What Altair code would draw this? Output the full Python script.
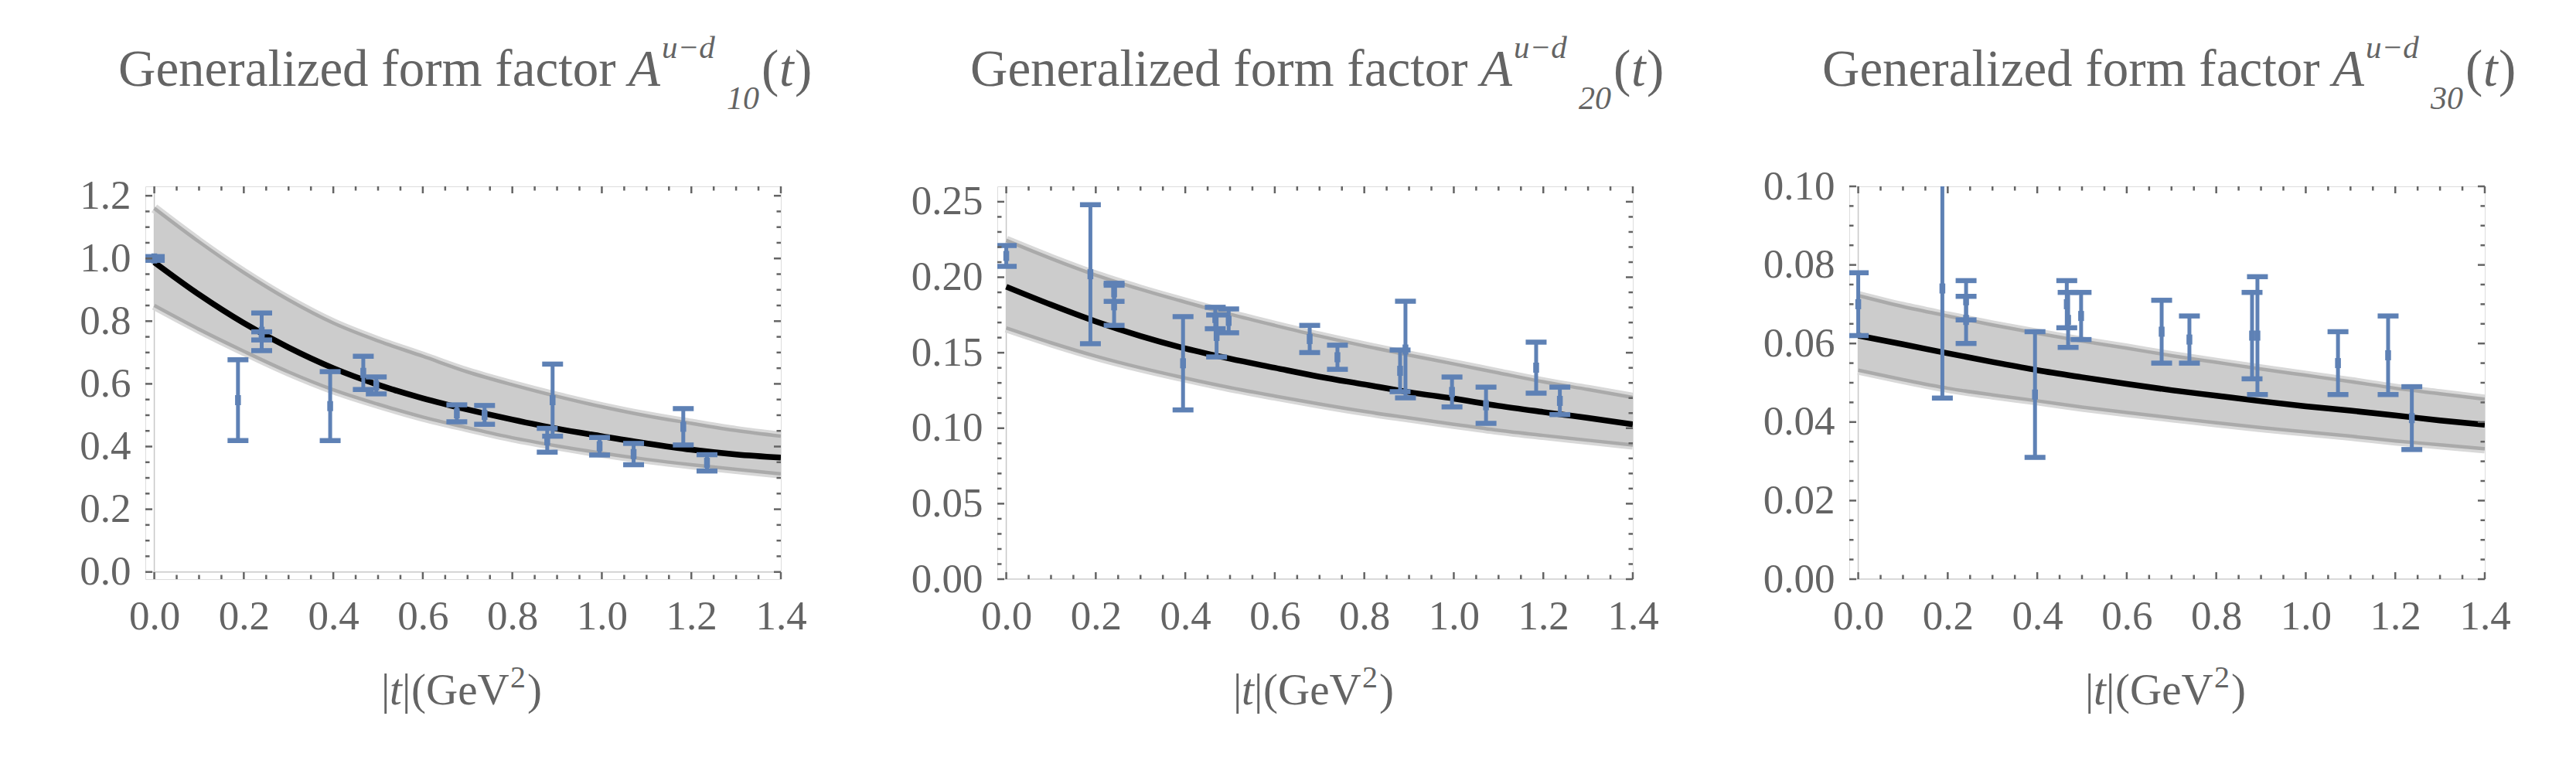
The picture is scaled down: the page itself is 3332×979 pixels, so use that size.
import altair as alt
import pandas as pd

FONT = "Liberation Serif"
GRAY = "#646464"
BLUE = "#5e81b5"

# x grid for the curves / bands (|t| in GeV^2)
T_GRID = [0.0, 0.1, 0.2, 0.3, 0.4, 0.5, 0.6, 0.7, 0.8, 0.9, 1.0, 1.1, 1.2, 1.3, 1.4]

# ---- panel 1 : A10 ----
P1_CURVE = [0.988, 0.885, 0.794, 0.716, 0.650, 0.597, 0.554, 0.518, 0.486, 0.457, 0.433, 0.410, 0.390, 0.375, 0.365]
P1_UP = [1.160, 1.053, 0.955, 0.868, 0.794, 0.737, 0.688, 0.638, 0.597, 0.560, 0.527, 0.498, 0.474, 0.451, 0.433]
P1_LO = [0.850, 0.774, 0.704, 0.638, 0.581, 0.535, 0.494, 0.460, 0.428, 0.402, 0.379, 0.359, 0.342, 0.327, 0.313]
P1_T = [0.0, 0.187, 0.240, 0.240, 0.393, 0.467, 0.496, 0.676, 0.738, 0.890, 0.878, 0.995, 1.071, 1.182, 1.235]
P1_C = [1.000, 0.548, 0.766, 0.753, 0.529, 0.635, 0.595, 0.506, 0.501, 0.548, 0.420, 0.401, 0.376, 0.463, 0.348]
P1_E = [0.006, 0.129, 0.060, 0.013, 0.110, 0.053, 0.027, 0.027, 0.030, 0.115, 0.038, 0.028, 0.034, 0.058, 0.026]

# ---- panel 2 : A20 ----
P2_CURVE = [0.1937, 0.1818, 0.1707, 0.1610, 0.1528, 0.1460, 0.1400, 0.1341, 0.1290, 0.1239, 0.1196, 0.1148, 0.1107, 0.1068, 0.1026]
P2_UP = [0.2244, 0.2124, 0.2014, 0.1920, 0.1835, 0.1755, 0.1681, 0.1610, 0.1545, 0.1484, 0.1426, 0.1366, 0.1307, 0.1256, 0.1204]
P2_LO = [0.1664, 0.1566, 0.1477, 0.1400, 0.1332, 0.1269, 0.1213, 0.1160, 0.1111, 0.1068, 0.1026, 0.0986, 0.0952, 0.0920, 0.0889]
P2_T = [0.0, 0.188, 0.241, 0.241, 0.395, 0.467, 0.470, 0.497, 0.678, 0.740, 0.892, 0.880, 0.996, 1.072, 1.184, 1.237]
P2_C = [0.2141, 0.2020, 0.1900, 0.1814, 0.1430, 0.1730, 0.1611, 0.1711, 0.1591, 0.1470, 0.1521, 0.1380, 0.1240, 0.1152, 0.1401, 0.1181]
P2_E = [0.0069, 0.0460, 0.0060, 0.0133, 0.0309, 0.0071, 0.0139, 0.0079, 0.0090, 0.0080, 0.0320, 0.0138, 0.0099, 0.0120, 0.0169, 0.0091]

# ---- panel 3 : A30 ----
P3_CURVE = [0.0620, 0.0598, 0.0575, 0.0553, 0.0532, 0.0514, 0.0497, 0.0481, 0.0467, 0.0453, 0.0440, 0.0429, 0.0417, 0.0404, 0.0393]
P3_UP = [0.0722, 0.0694, 0.0670, 0.0647, 0.0626, 0.0606, 0.0588, 0.0569, 0.0552, 0.0535, 0.0519, 0.0503, 0.0486, 0.0472, 0.0458]
P3_LO = [0.0532, 0.0508, 0.0486, 0.0469, 0.0454, 0.0438, 0.0424, 0.0411, 0.0398, 0.0386, 0.0375, 0.0364, 0.0352, 0.0342, 0.0332]
P3_T = [0.0, 0.188, 0.241, 0.241, 0.395, 0.466, 0.469, 0.498, 0.678, 0.740, 0.892, 0.880, 1.072, 1.184, 1.237]
P3_C = [0.0700, 0.0740, 0.0710, 0.0660, 0.0470, 0.0700, 0.0660, 0.0670, 0.0630, 0.0610, 0.0620, 0.0620, 0.0550, 0.0570, 0.0410]
P3_E = [0.0080, 0.0279, 0.0050, 0.0060, 0.0160, 0.0060, 0.0070, 0.0060, 0.0080, 0.0060, 0.0150, 0.0110, 0.0080, 0.0100, 0.0080]

# tick positions
X_MAJOR = [0.0, 0.2, 0.4, 0.6, 0.8, 1.0, 1.2, 1.4]
X_MINOR = [round(i * 0.05, 2) for i in range(29) if i % 4]
P1_YMAJ = [0.0, 0.2, 0.4, 0.6, 0.8, 1.0, 1.2]
P1_YMIN = [round(i * 0.05, 2) for i in range(25) if i % 4]
P2_YMAJ = [0.0, 0.05, 0.10, 0.15, 0.20, 0.25]
P2_YMIN = [round(i * 0.01, 2) for i in range(26) if i % 5]
P3_YMAJ = [0.0, 0.02, 0.04, 0.06, 0.08, 0.10]
P3_YMIN = [round(i * 0.005, 3) for i in range(21) if i % 4]

W, H = 822, 508
TMAJ, TMIN = 9, 5.5

ONE = alt.Data(values=[{}])


def txt(s, x, y, size, italic=False):
    return alt.Chart(ONE).mark_text(
        align="left", baseline="alphabetic", font=FONT, fontSize=size,
        fontStyle="italic" if italic else "normal", color=GRAY
    ).encode(x=alt.value(x), y=alt.value(y), text=alt.value(s))


def panel(curve, up, lo, t, c, e, ydom, ymaj, ymin, yfmt, sub):
    xs = alt.Scale(domain=[-0.02, 1.4], nice=False, zero=False)
    ys = alt.Scale(domain=ydom, nice=False, zero=False)
    common = dict(title=None, grid=False, domain=False, ticks=False,
                  labelFont=FONT, labelFontSize=53, labelColor=GRAY,
                  labelFlush=False, labelOverlap=False)
    xax = alt.Axis(values=X_MAJOR, format=".1f", labelPadding=22, **common)
    yax = alt.Axis(values=ymaj, format=yfmt, labelPadding=19, **common)

    band = pd.DataFrame({"t": T_GRID, "c": curve, "u": up, "l": lo})
    pts = pd.DataFrame({"t": t, "c": c,
                        "lo": [ci - ei for ci, ei in zip(c, e)],
                        "hi": [ci + ei for ci, ei in zip(c, e)]})

    X = alt.X("t:Q", scale=xs, axis=xax)
    layers = []
    # Mathematica axes lines
    layers.append(alt.Chart(ONE).mark_rule(color="#c8c8c8", strokeWidth=1.5, clip=True)
                  .encode(x=alt.datum(0, scale=xs, axis=xax)))
    layers.append(alt.Chart(ONE).mark_rule(color="#c8c8c8", strokeWidth=1.5, clip=True)
                  .encode(y=alt.datum(0, scale=ys, axis=yax)))
    base = alt.Chart(band)
    for col in ["u", "l"]:
        layers.append(base.mark_line(color="#d8d8d8", strokeWidth=12, interpolate="monotone", clip=True)
                      .encode(x=X, y=alt.Y(f"{col}:Q", scale=ys, axis=yax)))
    layers.append(base.mark_area(color="#cccccc", opacity=1, interpolate="monotone", clip=True)
                  .encode(x=X, y=alt.Y("l:Q", scale=ys, axis=yax), y2="u:Q"))
    for col in ["u", "l"]:
        layers.append(base.mark_line(color="#aaaaaa", strokeWidth=4.5, interpolate="monotone", clip=True)
                      .encode(x=X, y=alt.Y(f"{col}:Q", scale=ys, axis=yax)))
    layers.append(base.mark_line(color="black", strokeWidth=7.5, interpolate="monotone", clip=True)
                  .encode(x=X, y=alt.Y("c:Q", scale=ys, axis=yax)))

    pb = alt.Chart(pts)
    layers.append(pb.mark_rule(color=BLUE, strokeWidth=5, clip=True)
                  .encode(x=X, y=alt.Y("lo:Q", scale=ys, axis=yax), y2="hi:Q"))
    for col in ["lo", "hi"]:
        layers.append(pb.mark_tick(orient="horizontal", size=27, thickness=6.5, color=BLUE, opacity=1, clip=True)
                      .encode(x=X, y=alt.Y(f"{col}:Q", scale=ys, axis=yax)))
    layers.append(pb.mark_tick(orient="vertical", size=13, thickness=7.5, color=BLUE, opacity=1, clip=True)
                  .encode(x=X, y=alt.Y("c:Q", scale=ys, axis=yax)))

    # inward frame ticks
    for vals, L in [(X_MAJOR, TMAJ), (X_MINOR, TMIN)]:
        d = alt.Chart(pd.DataFrame({"v": vals}))
        vx = alt.X("v:Q", scale=xs, axis=xax)
        layers.append(d.mark_rule(color=GRAY, strokeWidth=2.5).encode(x=vx, y=alt.value(H), y2=alt.value(H - L)))
        layers.append(d.mark_rule(color=GRAY, strokeWidth=2.5).encode(x=vx, y=alt.value(0), y2=alt.value(L)))
    for vals, L in [(ymaj, TMAJ), (ymin, TMIN)]:
        d = alt.Chart(pd.DataFrame({"v": vals}))
        vy = alt.Y("v:Q", scale=ys, axis=yax)
        layers.append(d.mark_rule(color=GRAY, strokeWidth=2.5).encode(y=vy, x=alt.value(0), x2=alt.value(L)))
        layers.append(d.mark_rule(color=GRAY, strokeWidth=2.5).encode(y=vy, x=alt.value(W), x2=alt.value(W - L)))

    # panel title: Generalized form factor A^{u-d}_{n0}(t)
    layers += [
        txt("Generalized form factor", -35, -130, 67),
        txt("A", 625, -130, 67, True),
        txt("u\u2212d", 668, -166, 41, True),
        txt(sub, 752, -100, 42, True),
        txt("(", 797, -130, 67),
        txt("t", 820, -130, 67, True),
        txt(")", 840, -130, 67),
    ]
    # x-axis title |t|(GeV^2)
    layers += [
        txt("|", 305, 670, 57),
        txt("t", 316, 670, 57, True),
        txt("|", 332, 670, 57),
        txt("(GeV", 344, 670, 57),
        txt("2", 472, 648, 40),
        txt(")", 494, 670, 57),
    ]
    return alt.layer(*layers).properties(width=W, height=H)


p1 = panel(P1_CURVE, P1_UP, P1_LO, P1_T, P1_C, P1_E, [-0.023, 1.230], P1_YMAJ, P1_YMIN, ".1f", "10")
p2 = panel(P2_CURVE, P2_UP, P2_LO, P2_T, P2_C, P2_E, [0.0, 0.2602], P2_YMAJ, P2_YMIN, ".2f", "20")
p3 = panel(P3_CURVE, P3_UP, P3_LO, P3_T, P3_C, P3_E, [0.0, 0.10], P3_YMAJ, P3_YMIN, ".2f", "30")

chart = alt.hconcat(p1, p2, p3, spacing=280, bounds="flush").properties(
    padding={"left": 94, "top": 33, "right": 40, "bottom": 20}
).configure_view(stroke=GRAY, strokeWidth=2.5).configure(background="white")

chart.save("out.html", embed_options={"renderer": "svg", "actions": False})
